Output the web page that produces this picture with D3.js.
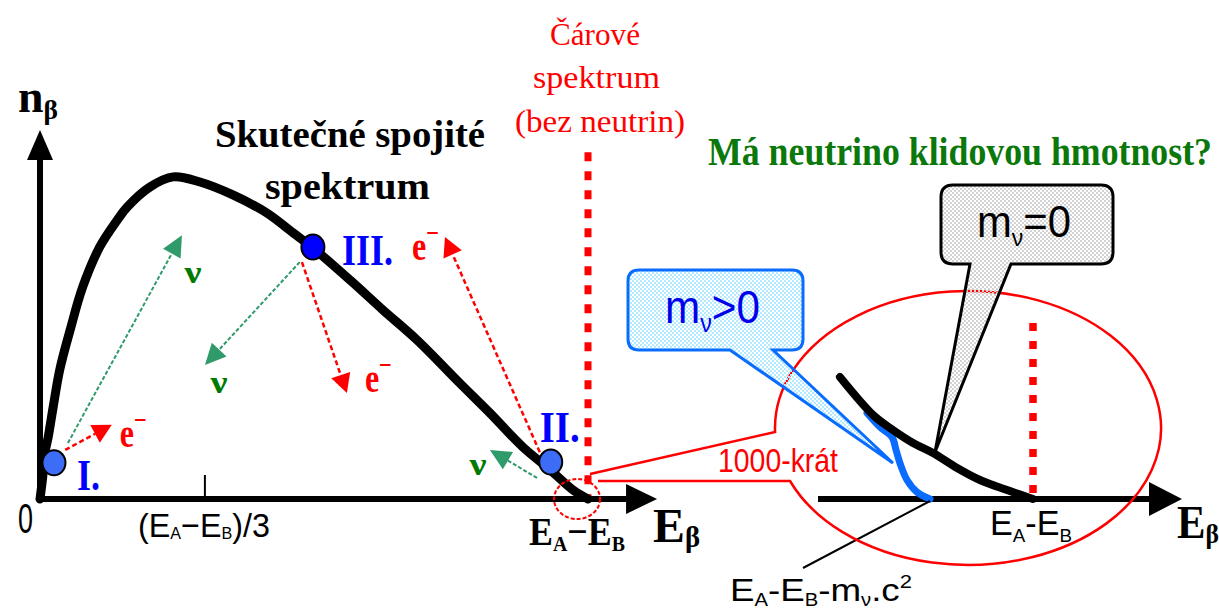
<!DOCTYPE html>
<html>
<head>
<meta charset="utf-8">
<script src="https://cdn.jsdelivr.net/npm/d3@7"></script>
<style>
  html, body { margin: 0; background: #fff; }
  svg { display: block; }
</style>
</head>
<body>
<svg id="chart" width="1219" height="613"></svg>
<script>
// Beta-decay electron spectrum n_beta(E_beta) with three marked decays,
// and an enlarged view of the end point for m_nu = 0 and m_nu > 0.

// Continuous spectrum: energy as a fraction of (E_A - E_B), relative count
const spectrumEnergy = [0, 0.005, 0.009, 0.015, 0.024, 0.036, 0.055, 0.078, 0.109, 0.141, 0.159,
  0.201, 0.243, 0.292, 0.352, 0.414, 0.462, 0.496, 0.566, 0.626, 0.688, 0.766, 0.821, 0.881,
  0.931, 0.973, 1.0];
const spectrumCount = [0, 0.060, 0.125, 0.168, 0.249, 0.350, 0.458, 0.575, 0.683, 0.756, 0.791,
  0.846, 0.873, 0.859, 0.824, 0.775, 0.721, 0.683, 0.593, 0.512, 0.431, 0.314, 0.233, 0.141,
  0.079, 0.024, 0];

// Marked decays on the spectrum
const caseNames = ["I.", "II.", "III."];
const caseEnergy = [0.0255, 0.932, 0.498];
const caseCount = [0.098, 0.100, 0.683];

// Emitted particles (electron / antineutrino) drawn as arrows from each decay
const emissionParticle = ["ν", "e", "ν", "e", "e", "ν"];
const emissionFromE = [0.051, 0.046, 0.474, 0.478, 0.912, 0.907];
const emissionFromN = [0.152, 0.133, 0.642, 0.642, 0.127, 0.057];
const emissionToE = [0.259, 0.131, 0.301, 0.560, 0.739, 0.821];
const emissionToN = [0.715, 0.201, 0.363, 0.287, 0.710, 0.133];

// Tick on the energy axis
const energyTicks = [0.30];

// Line spectrum (without neutrinos) at the end-point energy
const lineSpectrumEnergy = 1.0;
const lineSpectrumTop = 0.94;

// Enlarged end point: energy (zoomed units, end point = 1) and relative count
const zoomEnergyMassless = [0.102, 0.256, 0.335, 0.442, 0.535, 0.647, 0.753, 0.879, 1.0];
const zoomCountMassless = [0.61, 0.42, 0.355, 0.28, 0.23, 0.155, 0.095, 0.045, 0];
const zoomEnergyMassive = [0.228, 0.288, 0.344, 0.363, 0.381, 0.414, 0.460, 0.521];
const zoomCountMassive = [0.43, 0.36, 0.31, 0.245, 0.18, 0.095, 0.035, 0];
const zoomLineTop = 0.88;

const magnification = "1000-krát";

// ---------------------------------------------------------------------------
const svg = d3.select("#chart");
const defs = svg.append("defs");

const SERIF = "'Liberation Serif', 'Times New Roman', serif";
const SANS = "'Liberation Sans', Arial, sans-serif";
const RED = "#ff0000";
const NU_ARROW = "#2f9a6a";
const NU_TEXT = "#007a00";

// Main scales
const x = d3.scaleLinear().domain([0, 1]).range([40, 588]);
const y = d3.scaleLinear().domain([0, 1]).range([499, 130]);
// Scales of the enlarged end point
const zx = d3.scaleLinear().domain([0, 1]).range([818, 1033]);
const zy = d3.scaleLinear().domain([0, 1]).range([499, 299]);

function checker(id, color) {
  const p = defs.append("pattern").attr("id", id)
    .attr("width", 4).attr("height", 4).attr("patternUnits", "userSpaceOnUse");
  p.append("rect").attr("width", 2).attr("height", 2).attr("fill", color);
  p.append("rect").attr("x", 2).attr("y", 2).attr("width", 2).attr("height", 2).attr("fill", color);
}
checker("dotGray", "#d2d2d2");
checker("dotCyan", "#b4eaff");

// Text with sub/superscript parts: [text, sizeScale, baselineShift]
function label(x0, y0, parts, o) {
  const t = svg.append("text")
    .attr("font-family", o.family).attr("font-weight", o.weight || "normal")
    .attr("font-size", o.size).attr("fill", o.fill || "#000")
    .attr("text-anchor", o.anchor || "start");
  if (o.sy) t.attr("transform", `translate(${x0},${y0}) scale(1,${o.sy})`);
  else t.attr("x", x0).attr("y", y0);
  if (o.width) t.attr("textLength", o.width).attr("lengthAdjust", "spacingAndGlyphs");
  let shift = 0;
  parts.forEach(p => {
    const [str, scale = 1, dy = 0] = typeof p === "string" ? [p] : p;
    t.append("tspan").attr("font-size", o.size * scale).attr("dy", dy - shift).text(str);
    shift = dy;
  });
  return t;
}

function arrowHead(g, tipX, tipY, ang, len, half, color) {
  const bx = tipX - len * Math.cos(ang), by = tipY - len * Math.sin(ang);
  const nx = -Math.sin(ang), ny = Math.cos(ang);
  g.append("path")
    .attr("d", `M${tipX},${tipY}L${bx + half * nx},${by + half * ny}L${bx - half * nx},${by - half * ny}Z`)
    .attr("fill", color);
  return [bx, by];
}

// ---------------- main axes ----------------
const axes = svg.append("g");
axes.append("line").attr("x1", x(0)).attr("y1", y(0)).attr("x2", x(0)).attr("y2", y(0.92))
  .attr("stroke", "#000").attr("stroke-width", 6);
arrowHead(axes, x(0), y(1.0), -Math.PI / 2, 30, 13, "#000");
axes.append("line").attr("x1", x(0) - 3).attr("y1", y(0)).attr("x2", x(1.07)).attr("y2", y(0))
  .attr("stroke", "#000").attr("stroke-width", 6);
arrowHead(axes, x(1.126), y(0), 0, 31, 15, "#000");

const xAxis = d3.axisBottom(x).tickValues(energyTicks).tickSize(-22).tickSizeOuter(0).tickFormat("");
const axG = svg.append("g").attr("transform", `translate(0,${y(0) - 2})`).call(xAxis);
axG.select(".domain").remove();
axG.selectAll(".tick line").attr("stroke", "#000").attr("stroke-width", 2);

// ---------------- line spectrum ----------------
svg.append("line")
  .attr("x1", x(lineSpectrumEnergy)).attr("x2", x(lineSpectrumEnergy))
  .attr("y1", y(lineSpectrumTop)).attr("y2", y(0.005))
  .attr("stroke", RED).attr("stroke-width", 7).attr("stroke-dasharray", "9,10");

// ---------------- continuous spectrum ----------------
const spectrum = d3.zip(spectrumEnergy, spectrumCount);
const line = d3.line().x(d => x(d[0])).y(d => y(d[1])).curve(d3.curveCatmullRom.alpha(0.5));
svg.append("path").attr("d", line(spectrum))
  .attr("fill", "none").attr("stroke", "#000").attr("stroke-width", 9)
  .attr("stroke-linecap", "round").attr("stroke-linejoin", "round");

// ---------------- emission arrows ----------------
const labelDx = [11, 8, 14, 18, -33, -12];
const labelDy = [48, 22, 28, -1, 23, 25];
const arrows = svg.append("g");
emissionParticle.forEach((p, i) => {
  const x1 = x(emissionFromE[i]), y1 = y(emissionFromN[i]);
  const x2 = x(emissionToE[i]), y2 = y(emissionToN[i]);
  const isNu = p === "ν";
  const color = isNu ? NU_ARROW : RED;
  const ang = Math.atan2(y2 - y1, x2 - x1);
  const [bx, by] = arrowHead(arrows, x2, y2, ang, isNu ? 21 : 19, 10, color);
  arrows.append("line").attr("x1", x1).attr("y1", y1).attr("x2", bx).attr("y2", by)
    .attr("stroke", color).attr("stroke-width", isNu ? 2 : 2.5)
    .attr("stroke-dasharray", isNu ? "4,2" : "5,3");
  if (isNu) {
    label(x2 + labelDx[i], y2 + labelDy[i], ["ν"],
      { family: SERIF, weight: "bold", size: 32, fill: NU_TEXT, anchor: "middle", width: 17 });
  } else {
    label(x2 + labelDx[i], y2 + labelDy[i], ["e", ["−", 0.7, -17]],
      { family: SERIF, weight: "bold", size: 42, fill: RED, width: 27 });
  }
});

// ---------------- marked decays ----------------
const dotFill = ["#3d6df7", "#3d6df7", "#0000ff"];
const caseDx = [23, -11, 29];
const caseDy = [27, -20, 18];
const caseWidth = [23, 40, 51];
caseNames.forEach((name, i) => {
  const cx = x(caseEnergy[i]), cy = y(caseCount[i]);
  svg.append("ellipse").attr("cx", cx).attr("cy", cy).attr("rx", 11.5).attr("ry", 12.5)
    .attr("fill", dotFill[i]).attr("stroke", "#000").attr("stroke-width", 2);
  label(cx + caseDx[i], cy + caseDy[i], [name],
    { family: SERIF, weight: "bold", size: 44, fill: "#0000ff", width: caseWidth[i] });
});

// ---------------- enlarged end point ----------------
const zoomG = svg.append("g");
zoomG.append("line").attr("x1", zx(0)).attr("y1", zy(0)).attr("x2", zx(1.56)).attr("y2", zy(0))
  .attr("stroke", "#000").attr("stroke-width", 6);
arrowHead(zoomG, zx(1.693), zy(0), 0, 33, 17, "#000");

zoomG.append("line").attr("x1", zx(1)).attr("x2", zx(1))
  .attr("y1", zy(zoomLineTop)).attr("y2", zy(0.02))
  .attr("stroke", RED).attr("stroke-width", 7.5).attr("stroke-dasharray", "8,10");

const zline = d3.line().x(d => zx(d[0])).y(d => zy(d[1])).curve(d3.curveCatmullRom.alpha(0.5));
const massive = d3.zip(zoomEnergyMassive, zoomCountMassive);
const massless = d3.zip(zoomEnergyMassless, zoomCountMassless);
zoomG.append("path").attr("d", zline(massive))
  .attr("fill", "none").attr("stroke", "#0a6cff").attr("stroke-width", 7).attr("stroke-linecap", "round");
zoomG.append("path").attr("d", zline(massless))
  .attr("fill", "none").attr("stroke", "#000").attr("stroke-width", 8).attr("stroke-linecap", "round");

// leader to the shifted end point
const endMassive = massive[massive.length - 1];
zoomG.append("line").attr("x1", zx(endMassive[0])).attr("y1", zy(endMassive[1]) + 2)
  .attr("x2", 803).attr("y2", 568).attr("stroke", "#000").attr("stroke-width", 2);

// ---------------- magnifier ----------------
const mag = svg.append("g").attr("fill", "none").attr("stroke", RED);
mag.append("ellipse").attr("cx", x(0.98)).attr("cy", y(0)).attr("rx", 23).attr("ry", 20)
  .attr("stroke-width", 2).attr("stroke-dasharray", "4,2");
const E = { cx: 968, cy: 428, rx: 193, ry: 137 };
const onEllipse = yy => [E.cx - E.rx * Math.sqrt(1 - ((yy - E.cy) / E.ry) ** 2), yy];
const pUp = onEllipse(432), pLow = onEllipse(481);
mag.append("path")
  .attr("d", `M590,474L${pUp[0]},${pUp[1]}A${E.rx},${E.ry} 0 1 1 ${pLow[0]},${pLow[1]}L598,481`)
  .attr("stroke-width", 2.5);

// ---------------- callouts ----------------
function callout(x0, y0, x1, y1, r, ta, tb, tip) {
  return `M${x0 + r},${y0}H${x1 - r}Q${x1},${y0} ${x1},${y0 + r}V${y1 - r}Q${x1},${y1} ${x1 - r},${y1}` +
    `H${tb}L${tip[0]},${tip[1]}L${ta},${y1}H${x0 + r}Q${x0},${y1} ${x0},${y1 - r}V${y0 + r}Q${x0},${y0} ${x0 + r},${y0}Z`;
}
const tipMassive = [zx(zoomEnergyMassive[4]) - 7, zy(zoomCountMassive[4])];
const tipMassless = [zx(zoomEnergyMassless[4]) + 2, zy(zoomCountMassless[4]) - 1];
svg.append("path").attr("d", callout(628, 270, 803, 350, 11, 730, 773, tipMassive))
  .attr("fill", "url(#dotCyan)").attr("stroke", "#0a6cff").attr("stroke-width", 3);
svg.append("path").attr("d", callout(941, 185, 1113, 264, 12, 970, 1011, tipMassless))
  .attr("fill", "url(#dotGray)").attr("stroke", "#000").attr("stroke-width", 3);

// ---------------- texts ----------------
label(18, 112, ["n", ["β", 0.6, 7]], { family: SERIF, weight: "bold", size: 46, width: 40 });
label(18, 533, ["0"], { family: SANS, size: 42, width: 15 });
label(138, 537, ["(E", ["A", 0.5, 2], "−E", ["B", 0.5, 2], ")/3"], { family: SANS, size: 34, width: 132 });
label(529, 545, ["E", ["A", 0.55, 6], "−E", ["B", 0.55, 6]], { family: SERIF, weight: "bold", size: 40, width: 96 });
label(653, 542, ["E", ["β", 0.6, 5]], { family: SERIF, weight: "bold", size: 48, width: 47 });

label(215, 147, ["Skutečné spojité"], { family: SERIF, weight: "bold", size: 38, width: 270 });
label(265, 199, ["spektrum"], { family: SERIF, weight: "bold", size: 38, width: 165 });

label(550, 45, ["Čárové"], { family: SERIF, size: 32, fill: RED, width: 90 });
label(533, 88, ["spektrum"], { family: SERIF, size: 32, fill: RED, width: 127 });
label(515, 132, ["(bez neutrin)"], { family: SERIF, size: 32, fill: RED, width: 170 });

label(708, 165, ["Má neutrino klidovou hmotnost?"],
  { family: SERIF, weight: "bold", size: 36, fill: "#0a780a", width: 504, sy: 1.12 });

label(718, 472, [magnification], { family: SANS, size: 34, fill: RED, width: 120 });

label(665, 323, ["m", ["ν", 0.55, 9], ">0"], { family: SANS, size: 46, fill: "#0000ee", width: 95 });
label(977, 237, ["m", ["ν", 0.55, 9], "=0"], { family: SANS, size: 44, fill: "#000", width: 94 });

label(990, 535, ["E", ["A", 0.55, 7], "-E", ["B", 0.55, 7]], { family: SANS, size: 35, width: 82 });
label(730, 601, ["E", ["A", 0.55, 5], "-E", ["B", 0.55, 5], "-m", ["ν", 0.55, 5], ".c", ["2", 0.6, -13]],
  { family: SANS, size: 32, width: 182 });
label(1177, 538, ["E", ["β", 0.6, 5]], { family: SERIF, weight: "bold", size: 46, width: 42 });
</script>
</body>
</html>
